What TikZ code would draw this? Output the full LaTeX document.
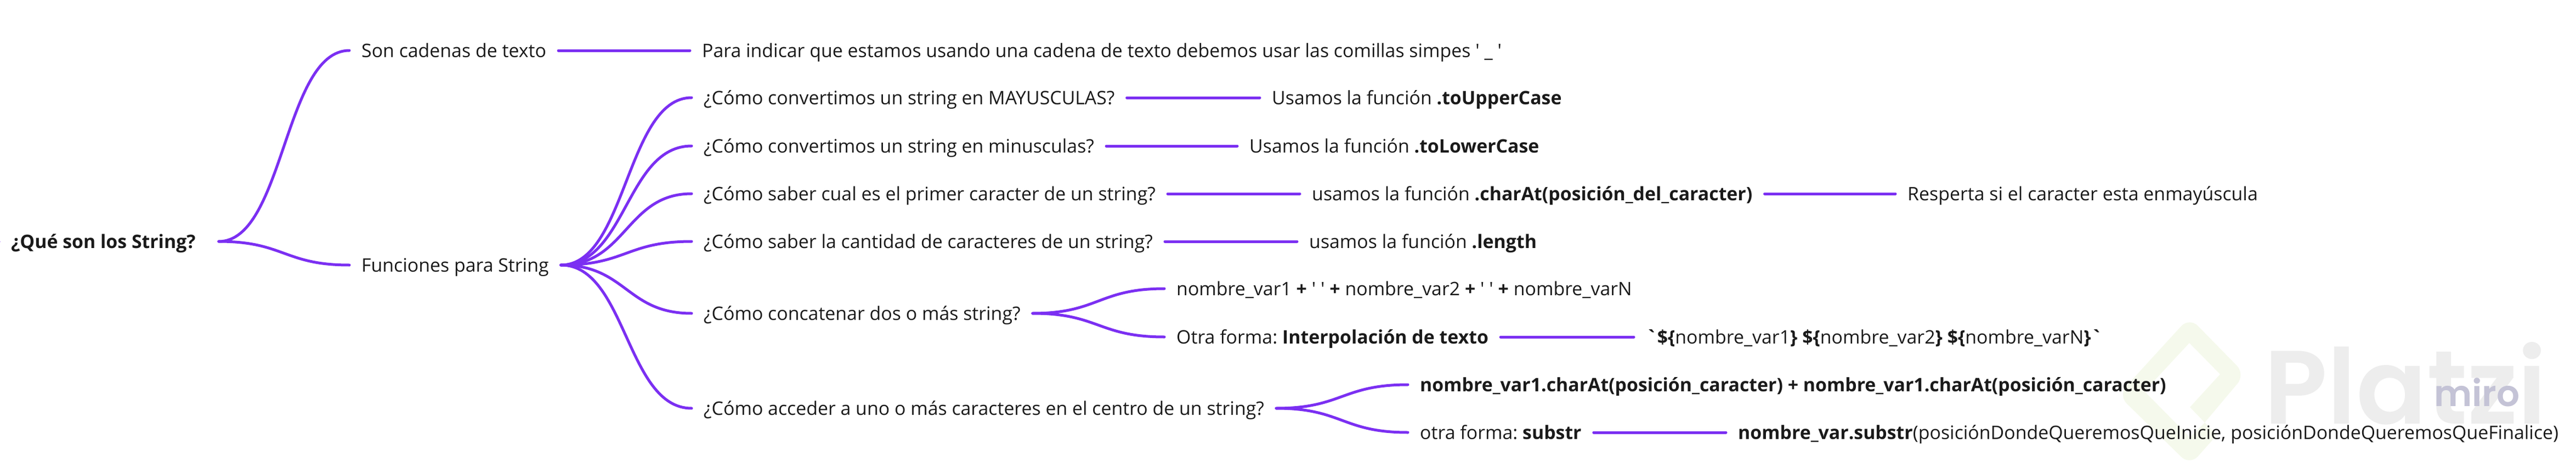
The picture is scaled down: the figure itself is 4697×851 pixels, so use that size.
\documentclass[tikz,border=0pt]{standalone}
\usepackage{fontspec}
\setmainfont{Open Sans}[Ligatures=TeXOff]
\newfontfamily\wmfont{Poppins SemiBold}[Ligatures=TeXOff]
\usetikzlibrary{calc}
\frenchspacing
\definecolor{linep}{HTML}{7B2FF2}
\definecolor{inkk}{HTML}{1A1A1A}
\definecolor{wmgray}{HTML}{EDEDED}
\definecolor{wmgreen}{HTML}{F5F9EC}
\definecolor{miroc}{HTML}{C4C3D6}
\tikzset{
  lbl/.style={anchor=west,inner ysep=0pt,inner xsep=22pt,text height=32pt,text depth=8pt,text=inkk,font=\fontsize{33.85pt}{38pt}\selectfont},
  conn/.style={draw=linep,line width=5pt,line cap=round},
}
\newcommand{\curv}[2]{\draw[conn] (#1.east) .. controls ($(#1.east)!.5!(#2.west |- #1.east)$) and ($(#1.east |- #2.west)!.5!(#2.west)$) .. (#2.west);}
\begin{document}
\begin{tikzpicture}[x=1pt,y=-1pt]
\useasboundingbox (0,0) rectangle (4697,851);
% watermark
\fill[wmgreen,rounded corners=22pt] (3992,578) -- (4094,682) [sharp corners] -- (4020,770) -- (3993,742) -- (4048,682) -- (3992,625) -- (3910,713) -- (3993,797) -- (4020,770) -- (4042,793) [rounded corners=22pt] -- (3993,848) -- (3862,720) -- cycle;
\node[anchor=base west,inner sep=0pt,text=wmgray,font=\fontsize{190pt}{190pt}\wmfont] (plz) at (4128,772) {Platzi};
% nodes
\coordinate (stub) at (-5,440);
\node[lbl,font=\fontsize{33.85pt}{38pt}\selectfont\bfseries] (root) at (-2,440) {¿Qué son los String?\hspace*{20pt}};
\node[lbl] (son) at (637,92) {Son cadenas de texto};
\node[lbl] (para) at (1258,92) {Para indicar que estamos usando una cadena de texto debemos usar las comillas simpes ' \_ '};
\node[lbl] (fun) at (637,483) {Funciones para String};
\node[lbl] (q1) at (1261,178) {¿Cómo convertimos un string en MAYUSCULAS?};
\node[lbl] (a1) at (2297,178) {Usamos la función \textbf{.toUpperCase}};
\node[lbl] (q2) at (1261,266) {¿Cómo convertimos un string en minusculas?};
\node[lbl] (a2) at (2256,266) {Usamos la función \textbf{.toLowerCase}};
\node[lbl] (q3) at (1261,353) {¿Cómo saber cual es el primer caracter de un string?};
\node[lbl] (a3) at (2370,353) {usamos la función \textbf{.charAt(posición\_del\_caracter)}};
\node[lbl] (b3) at (3456,353) {Resperta si el caracter esta enmayúscula};
\node[lbl] (q4) at (1261,440) {¿Cómo saber la cantidad de caracteres de un string?};
\node[lbl] (a4) at (2365,440) {usamos la función \textbf{.length}};
\node[lbl] (q5) at (1261,571) {¿Cómo concatenar dos o más string?};
\node[lbl] (a5) at (2123,526) {nombre\_var1 \textbf{+} ' ' \textbf{+} nombre\_var2 \textbf{+} ' ' \textbf{+} nombre\_varN};
\node[lbl] (c5) at (2123,614) {Otra forma: \textbf{Interpolación de texto}};
\node[lbl] (d5) at (2979,614) {\textbf{`\$\{}nombre\_var1\textbf{\}} \textbf{\$\{}nombre\_var2\textbf{\}} \textbf{\$\{}nombre\_varN\textbf{\}`}};
\node[lbl] (q6) at (1261,744) {¿Cómo acceder a uno o más caracteres en el centro de un string?};
\node[lbl] (a6) at (2567,701) {\textbf{nombre\_var1.charAt(posición\_caracter) + nombre\_var1.charAt(posición\_caracter)}};
\node[lbl] (c6) at (2567,788) {otra forma: \textbf{substr}};
\node[lbl] (d6) at (3147,788) {\textbf{nombre\_var.substr}(posiciónDondeQueremosQueInicie, posiciónDondeQueremosQueFinalice)};
% connectors
\draw[conn] (stub) -- (root.west);
\curv{root}{son}\curv{root}{fun}
\draw[conn] (son) -- (para);
\foreach \t in {q1,q2,q3,q4,q5,q6}{\curv{fun}{\t}}
\draw[conn] (q1) -- (a1);
\draw[conn] (q2) -- (a2);
\draw[conn] (q3) -- (a3);
\draw[conn] (a3) -- (b3);
\draw[conn] (q4) -- (a4);
\curv{q5}{a5}\curv{q5}{c5}
\draw[conn] (c5) -- (d5);
\curv{q6}{a6}\curv{q6}{c6}
\draw[conn] (c6) -- (d6);
\node[anchor=base west,inner sep=0pt,text=miroc,font=\fontsize{66pt}{66pt}\wmfont] (miro) at (4438,740) {miro};
\end{tikzpicture}
\end{document}
